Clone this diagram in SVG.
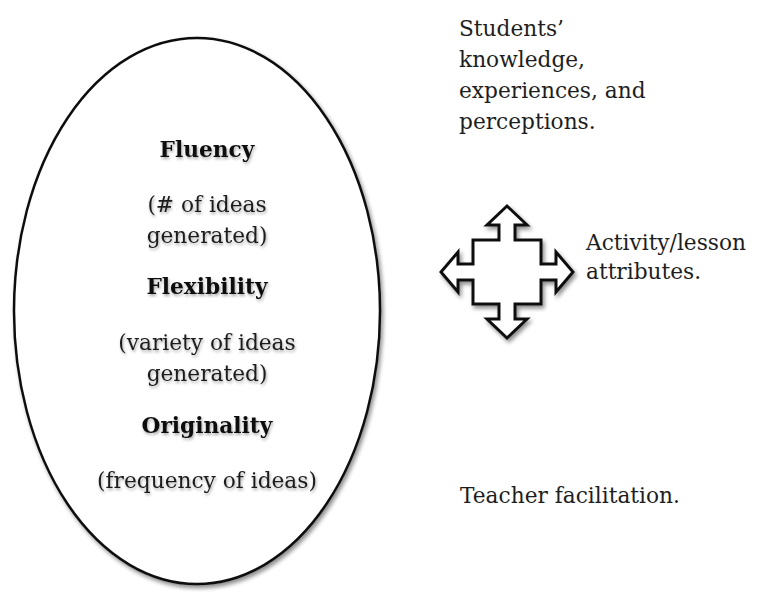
<svg xmlns="http://www.w3.org/2000/svg" width="758" height="595" viewBox="0 0 758 595">
<defs>
<filter id="sh" x="-20%" y="-20%" width="140%" height="140%">
<feGaussianBlur in="SourceAlpha" stdDeviation="2.2"/>
<feOffset dx="2" dy="3" result="b"/>
<feComponentTransfer in="b" result="c"><feFuncA type="linear" slope="0.45"/></feComponentTransfer>
<feMerge><feMergeNode in="c"/><feMergeNode in="SourceGraphic"/></feMerge>
</filter>
<filter id="tsh" x="-10%" y="-30%" width="120%" height="160%">
<feGaussianBlur in="SourceAlpha" stdDeviation="1.8"/>
<feOffset dx="1" dy="2" result="b"/>
<feComponentTransfer in="b" result="c"><feFuncA type="linear" slope="0.35"/></feComponentTransfer>
<feMerge><feMergeNode in="c"/><feMergeNode in="SourceGraphic"/></feMerge>
</filter>
</defs>
<style>
.t{font-family:"DejaVu Serif","Liberation Serif",serif;font-size:21.7px;fill:#1e1e1e}
.c{text-anchor:middle}
.b{font-weight:bold;fill:#111}
</style>
<rect width="758" height="595" fill="#fff"/>
<g id="ellipse-node">
<ellipse cx="197" cy="311" rx="183" ry="273" fill="#fff" stroke="#111" stroke-width="2.5" filter="url(#sh)"/>
<g filter="url(#tsh)">
<text class="t c b" x="207" y="157">Fluency</text>
<text class="t c" x="207" y="212">(# of ideas</text>
<text class="t c" x="207" y="243">generated)</text>
<text class="t c b" x="207" y="294">Flexibility</text>
<text class="t c" x="207" y="350">(variety of ideas</text>
<text class="t c" x="207" y="381">generated)</text>
<text class="t c b" x="207" y="433">Originality</text>
<text class="t c" x="207" y="488">(frequency of ideas)</text>
</g>
</g>
<g id="students">
<text class="t" x="459" y="36">Students’</text>
<text class="t" x="459" y="67">knowledge,</text>
<text class="t" x="459" y="98">experiences, and</text>
<text class="t" x="459" y="129">perceptions.</text>
</g>
<g id="cross-arrow">
<path transform="translate(507,272)" filter="url(#sh)" fill="#fff" stroke="#111" stroke-width="3" stroke-linejoin="miter" d="M0,-66 L20,-47 L8,-47 L8,-32 L34,-32 L34,-8 L49,-8 L49,-20 L66,0 L49,20 L49,8 L34,8 L34,32 L8,32 L8,47 L20,47 L0,66 L-20,47 L-8,47 L-8,32 L-34,32 L-34,8 L-49,8 L-49,20 L-66,0 L-49,-20 L-49,-8 L-34,-8 L-34,-32 L-8,-32 L-8,-47 L-20,-47 Z"/>
</g>
<g id="activity">
<text class="t" x="586" y="250">Activity/lesson</text>
<text class="t" x="586" y="279">attributes.</text>
</g>
<g id="teacher">
<text class="t" x="460" y="503">Teacher facilitation.</text>
</g>
<g id="connectors"/>
</svg>
